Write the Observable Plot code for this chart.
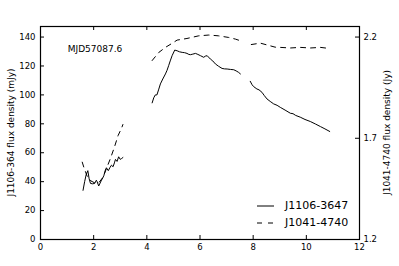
<!DOCTYPE html>
<html><head><meta charset="utf-8">
<script src="https://cdn.jsdelivr.net/npm/d3@7"></script>
<script src="https://cdn.jsdelivr.net/npm/@observablehq/plot@0.6"></script>
<style>body{margin:0;background:#fff} svg{font-family:"DejaVu Sans",sans-serif}</style>
</head><body><div id="chart"></div>
<script>
// J1106-3647 (solid, left axis, mJy); null breaks the line between segments
const j1106X = [1.60,1.66,1.72,1.78,1.83,1.88,1.96,2.04,2.10,2.13,2.19,2.28,2.38,2.44,2.48,2.55,2.62,2.67,2.73,2.78,2.82,2.88,2.94,3.00,3.05,3.10,
  null,
  4.20,4.26,4.32,4.38,4.45,4.51,4.60,4.70,4.76,4.82,4.88,4.95,5.05,5.14,5.23,5.33,5.42,5.51,5.58,5.64,5.73,5.83,5.92,6.02,6.14,6.20,6.27,6.39,6.48,6.58,6.70,6.83,6.92,7.02,7.15,7.27,7.36,7.45,7.52,
  null,
  7.89,7.96,8.02,8.14,8.22,8.33,8.42,8.52,8.64,8.77,8.90,9.02,9.20,9.40,9.50,9.60,9.77,9.95,10.15,10.35,10.53,10.70,10.88];
const j1106Y = [34.0,40,45,47.6,42,38.8,38.5,38.8,41,40,37,40.5,44,48,49.6,47.6,50,51.4,50.3,53,55.4,54,57.2,55.4,56,56.7,
  null,
  94.5,98,100,100,104,107.6,111,114.5,117,120.2,123.5,127.1,131,130.5,129.8,129.4,129.2,128.7,128,127.8,128.2,128.7,128,127.1,126,126.8,127.1,124.8,123.5,121.4,119.8,118.3,118,117.9,117.6,117.4,116.6,115.6,114.5,
  null,
  109.4,107,105.7,104.1,103.5,101.8,99.5,97.2,95.5,93.8,92.8,91.4,89.5,87.3,87,85.8,84.6,83,81.6,79.8,78.1,76.5,74.7];

// J1041-4740 (dashed, right axis, Jy)
const j1041X = [1.57,1.63,1.75,1.90,2.05,2.20,2.35,2.50,2.63,2.78,2.92,3.05,3.10,
  null,
  4.20,4.45,4.70,4.95,5.14,5.51,5.95,6.33,6.70,7.08,7.33,7.58,
  null,
  7.93,8.27,8.52,8.83,9.02,9.40,9.77,10.15,10.53,10.84];
const j1041Y = [1.582,1.557,1.514,1.489,1.479,1.482,1.507,1.557,1.600,1.656,1.714,1.750,1.768,
  null,
  2.084,2.124,2.149,2.169,2.185,2.193,2.206,2.210,2.206,2.198,2.190,2.179,
  null,
  2.163,2.170,2.161,2.150,2.149,2.146,2.149,2.146,2.149,2.144];

const xTicks = [0,2,4,6,8,10,12];
const leftTicks = [0,20,40,60,80,100,120,140];
const rightTicks = [1.2,1.7,2.2];
const seriesNames = ["J1106-3647","J1041-4740"];
const axisLabels = ["J1106-364 flux density (mJy)","J1041-4740 flux density (Jy)"];
const annotation = [{label:"MJD57087.6", x:2.05, y:132}];

const R0 = 1.2, RK = 140; // right value = R0 + left/RK
const toLeft = r => r == null ? NaN : (r - R0) * RK;
const W = 399, H = 266, mL = 40, mR = 40, mT = 26, mB = 27;
const innerH = H - mT - mB, innerW = W - mL - mR;

const solid = j1106X.map((x,i) => ({x: x == null ? NaN : x, y: j1106Y[i] == null ? NaN : j1106Y[i]}));
const dashed = j1041X.map((x,i) => ({x: x == null ? NaN : x, y: toLeft(j1041Y[i])}));

const chart = Plot.plot({
  width: W, height: H, marginLeft: mL, marginRight: mR, marginTop: mT, marginBottom: mB,
  style: {fontFamily: "DejaVu Sans, sans-serif", fontSize: "8.5px", background: "white", color: "black"},
  x: {domain: [0, 12]},
  y: {domain: [0, 147.3]},
  marks: [
    Plot.axisX({ticks: xTicks, tickSize: 0, tickPadding: 4, label: null, tickFormat: d => String(d)}),
    Plot.axisY({anchor: "left", ticks: leftTicks, tickSize: 0, tickPadding: 5, label: null, tickFormat: d => String(d)}),
    Plot.axisY({anchor: "right", ticks: rightTicks.map(toLeft), tickSize: 0, tickPadding: 4, label: null,
      tickFormat: v => (R0 + v / RK).toFixed(1)}),
    Plot.tickX(xTicks, {x: d => d, insetTop: innerH - 4, stroke: "black"}),
    Plot.tickX(xTicks, {x: d => d, insetBottom: innerH - 4, stroke: "black"}),
    Plot.tickY(leftTicks, {y: d => d, insetRight: innerW - 4, stroke: "black"}),
    Plot.tickY(rightTicks.map(toLeft), {y: d => d, insetLeft: innerW - 4, stroke: "black"}),
    Plot.line(solid, {x: "x", y: "y", stroke: "black", strokeWidth: 1, curve: "linear"}),
    Plot.line(dashed, {x: "x", y: "y", stroke: "black", strokeWidth: 1, strokeDasharray: "5,5", curve: "linear"}),
    Plot.text(annotation, {x: "x", y: "y", text: "label", fontSize: 9, fill: "black"}),
    Plot.frame({stroke: "black", strokeWidth: 1.2})
  ]
});

const svg = d3.select(chart);
// axis titles
svg.append("text").attr("transform", `translate(11,${mT + innerH/2}) rotate(-90)`)
  .attr("text-anchor","middle").attr("dominant-baseline","middle")
  .style("font-size","9px").attr("fill","black").text(axisLabels[0]);
svg.append("text").attr("transform", `translate(387,${mT + innerH/2}) rotate(-90)`)
  .attr("text-anchor","middle").attr("dominant-baseline","middle")
  .style("font-size","9px").attr("fill","black").text(axisLabels[1]);
// legend
const lg = svg.append("g").attr("text-anchor","start");
seriesNames.forEach((name, i) => {
  const yy = 206 + i * 17;
  lg.append("line").attr("x1",257).attr("x2",274).attr("y1",yy).attr("y2",yy)
    .attr("stroke","black").attr("stroke-width",1).attr("stroke-dasharray", i ? "5,6" : null);
  lg.append("text").attr("x",285).attr("y",yy).attr("text-anchor","start").attr("dominant-baseline","middle")
    .style("font-size","11px").attr("fill","black").text(name);
});
document.getElementById("chart").appendChild(chart);
</script>
</body></html>
